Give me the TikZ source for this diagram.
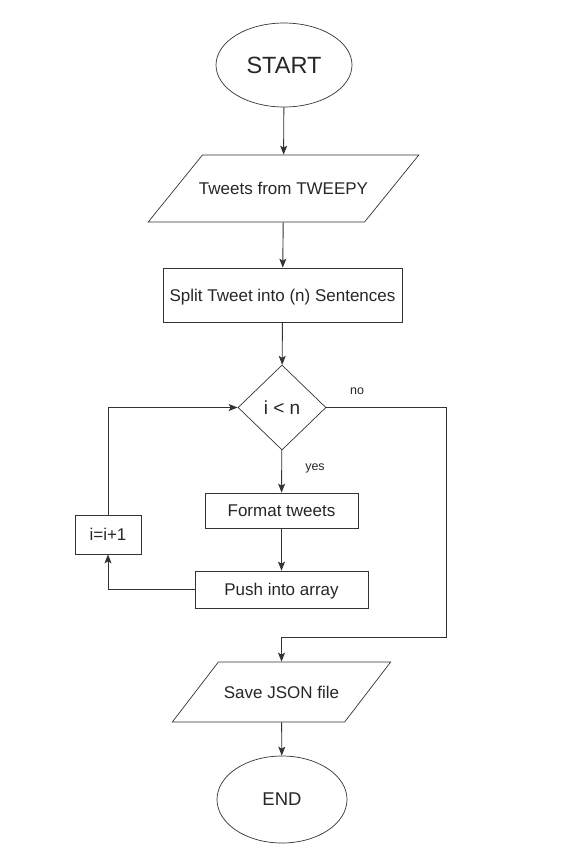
\documentclass[tikz,border=0pt]{standalone}
\usepackage{fontspec}
\setmainfont{Liberation Sans}
\usetikzlibrary{shapes.geometric, arrows.meta}

\begin{document}
\begin{tikzpicture}[x=1pt, y=-1pt]
        \tikzstyle{term}=[draw, shape=ellipse, inner sep=0pt];
        \tikzstyle{io_item}=[draw, shape=trapezium, text height=14pt, text depth=2pt];
        \tikzstyle{proc}=[draw, shape=rectangle, inner sep=0pt, text height=14pt, text depth=2pt];
        \tikzstyle{lbl}=[font=\fontsize{12.5}{14}\selectfont, inner sep=0pt];
        \tikzstyle{flow}=[line width=0.9pt, color=black!80, -{Stealth[length=9pt, width=7pt, inset=2pt]}];
        \tikzset{every node/.append style={line width=0.7pt, color=black!80, text=black!85, font=\fontsize{17}{20}\selectfont}}

        \useasboundingbox (0,0) rectangle (560,854);

        % terminals
        \node[term, minimum width=136pt, minimum height=84pt, font=\fontsize{23.5}{26}\selectfont] at (284, 65) (start) {START};
        \node[term, minimum width=130pt, minimum height=87pt, font=\fontsize{18.5}{22}\selectfont] at (282, 799.5) (end) {END};

        % input / output
        \node[io_item, trapezium left angle=51, trapezium right angle=129,
              inner xsep=-3.5pt, inner ysep=25.5pt] at (283.5, 188.5) (tweets) {Tweets from TWEEPY};
        \node[io_item, trapezium left angle=52.5, trapezium right angle=127.5,
              inner xsep=5.5pt, inner ysep=22pt] at (281.5, 692) (save) {Save JSON file};

        % process boxes
        \node[proc, minimum width=239pt, minimum height=54pt] at (282.5, 295) (split) {Split Tweet into (n) Sentences};
        \node[proc, minimum width=153pt, minimum height=35pt] at (281.5, 510.5) (fmt) {Format tweets};
        \node[proc, minimum width=173pt, minimum height=37pt] at (281.5, 589.5) (push) {Push into array};
        \node[proc, minimum width=66pt, minimum height=39pt] at (108, 534.5) (inc) {i=i+1};

        % decision
        \node[draw, shape=diamond, inner sep=0pt, minimum width=88pt, minimum height=85pt,
              font=\fontsize{19}{22}\selectfont] at (282, 407.5) (cond) {i < n};
        \node[lbl] at (357, 391) (no) {no};
        \node[lbl] at (315, 468) (yes) {yes};

        \coordinate (turn) at (446, 637);

        % connectors
        \draw[flow] (start) -- (tweets);
        \draw[flow] (tweets) -- (split);
        \draw[flow] (split) -- (cond);
        \draw[flow] (cond) -- (fmt);
        \draw[flow] (fmt) -- (push);
        \draw[flow] (push.west) -| (inc.south);
        \draw[flow] (inc.north) |- (cond.west);
        \draw[flow] (cond.east) -| (turn) -| (save.north);
        \draw[flow] (save) -- (end);
\end{tikzpicture}
\end{document}
